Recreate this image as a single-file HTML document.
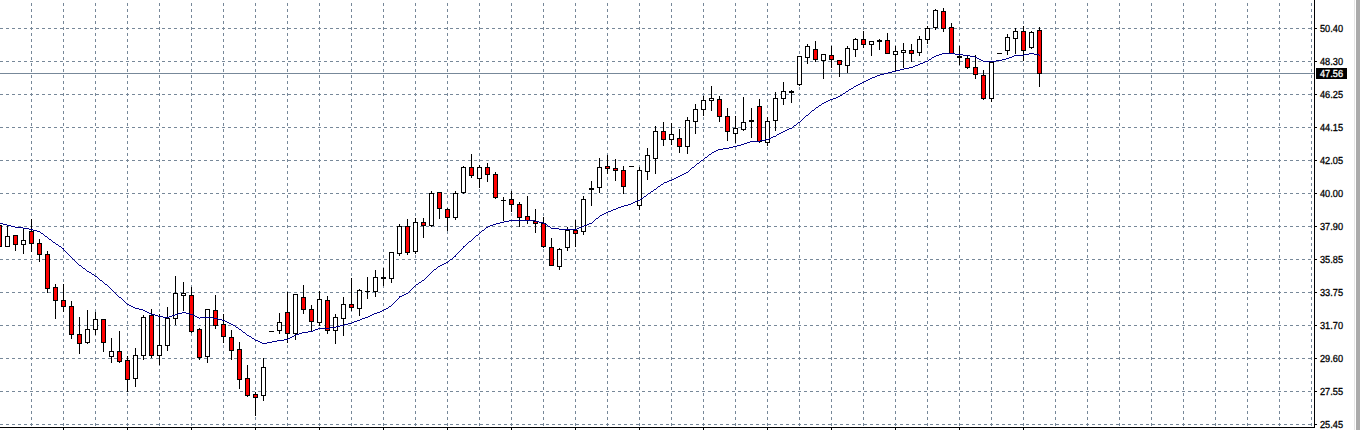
<!DOCTYPE html>
<html><head><meta charset="utf-8"><title>Chart</title>
<style>
html,body{margin:0;padding:0;background:#fff;overflow:hidden}
svg{display:block}
text{font-family:"Liberation Sans",sans-serif;font-size:10.2px;text-rendering:geometricPrecision}
</style></head><body>
<svg width="1360" height="430" viewBox="0 0 1360 430" shape-rendering="crispEdges">
<rect x="0" y="0" width="1360" height="430" fill="#fff"/>
<g stroke="#778899" stroke-width="1" stroke-dasharray="3 3" fill="none">
<line x1="0" y1="28.5" x2="1314" y2="28.5"/>
<line x1="0" y1="61.5" x2="1314" y2="61.5"/>
<line x1="0" y1="94.5" x2="1314" y2="94.5"/>
<line x1="0" y1="127.5" x2="1314" y2="127.5"/>
<line x1="0" y1="160.5" x2="1314" y2="160.5"/>
<line x1="0" y1="193.5" x2="1314" y2="193.5"/>
<line x1="0" y1="226.5" x2="1314" y2="226.5"/>
<line x1="0" y1="259.5" x2="1314" y2="259.5"/>
<line x1="0" y1="292.5" x2="1314" y2="292.5"/>
<line x1="0" y1="325.5" x2="1314" y2="325.5"/>
<line x1="0" y1="358.5" x2="1314" y2="358.5"/>
<line x1="0" y1="391.5" x2="1314" y2="391.5"/>
<line x1="0" y1="424.5" x2="1314" y2="424.5"/>
<line x1="31.5" y1="-3" x2="31.5" y2="427"/>
<line x1="63.5" y1="-3" x2="63.5" y2="427"/>
<line x1="95.5" y1="-3" x2="95.5" y2="427"/>
<line x1="127.5" y1="-3" x2="127.5" y2="427"/>
<line x1="159.5" y1="-3" x2="159.5" y2="427"/>
<line x1="191.5" y1="-3" x2="191.5" y2="427"/>
<line x1="223.5" y1="-3" x2="223.5" y2="427"/>
<line x1="255.5" y1="-3" x2="255.5" y2="427"/>
<line x1="287.5" y1="-3" x2="287.5" y2="427"/>
<line x1="319.5" y1="-3" x2="319.5" y2="427"/>
<line x1="351.5" y1="-3" x2="351.5" y2="427"/>
<line x1="383.5" y1="-3" x2="383.5" y2="427"/>
<line x1="415.5" y1="-3" x2="415.5" y2="427"/>
<line x1="447.5" y1="-3" x2="447.5" y2="427"/>
<line x1="479.5" y1="-3" x2="479.5" y2="427"/>
<line x1="511.5" y1="-3" x2="511.5" y2="427"/>
<line x1="543.5" y1="-3" x2="543.5" y2="427"/>
<line x1="575.5" y1="-3" x2="575.5" y2="427"/>
<line x1="607.5" y1="-3" x2="607.5" y2="427"/>
<line x1="639.5" y1="-3" x2="639.5" y2="427"/>
<line x1="671.5" y1="-3" x2="671.5" y2="427"/>
<line x1="703.5" y1="-3" x2="703.5" y2="427"/>
<line x1="735.5" y1="-3" x2="735.5" y2="427"/>
<line x1="767.5" y1="-3" x2="767.5" y2="427"/>
<line x1="799.5" y1="-3" x2="799.5" y2="427"/>
<line x1="831.5" y1="-3" x2="831.5" y2="427"/>
<line x1="863.5" y1="-3" x2="863.5" y2="427"/>
<line x1="895.5" y1="-3" x2="895.5" y2="427"/>
<line x1="927.5" y1="-3" x2="927.5" y2="427"/>
<line x1="959.5" y1="-3" x2="959.5" y2="427"/>
<line x1="991.5" y1="-3" x2="991.5" y2="427"/>
<line x1="1023.5" y1="-3" x2="1023.5" y2="427"/>
<line x1="1055.5" y1="-3" x2="1055.5" y2="427"/>
<line x1="1087.5" y1="-3" x2="1087.5" y2="427"/>
<line x1="1119.5" y1="-3" x2="1119.5" y2="427"/>
<line x1="1151.5" y1="-3" x2="1151.5" y2="427"/>
<line x1="1183.5" y1="-3" x2="1183.5" y2="427"/>
<line x1="1215.5" y1="-3" x2="1215.5" y2="427"/>
<line x1="1247.5" y1="-3" x2="1247.5" y2="427"/>
<line x1="1279.5" y1="-3" x2="1279.5" y2="427"/>
<line x1="1311.5" y1="-3" x2="1311.5" y2="427"/>
</g>
<rect x="0" y="73" width="1314" height="1" fill="#778899"/>
<g>
<rect x="-1" y="225" width="1" height="22" fill="#000"/><rect x="-3" y="225" width="5" height="22" fill="#000"/><rect x="-2" y="226" width="3" height="20" fill="#ff0000"/>
<rect x="7" y="225" width="1" height="22" fill="#000"/><rect x="5" y="236" width="5" height="11" fill="#000"/><rect x="6" y="237" width="3" height="9" fill="#fff"/>
<rect x="15" y="235" width="1" height="16" fill="#000"/><rect x="13" y="235" width="5" height="10" fill="#000"/><rect x="14" y="236" width="3" height="8" fill="#ff0000"/>
<rect x="23" y="228" width="1" height="26" fill="#000"/><rect x="21" y="240" width="5" height="5" fill="#000"/><rect x="22" y="241" width="3" height="3" fill="#fff"/>
<rect x="31" y="219" width="1" height="33" fill="#000"/><rect x="29" y="231" width="5" height="13" fill="#000"/><rect x="30" y="232" width="3" height="11" fill="#ff0000"/>
<rect x="39" y="239" width="1" height="23" fill="#000"/><rect x="37" y="243" width="5" height="12" fill="#000"/><rect x="38" y="244" width="3" height="10" fill="#ff0000"/>
<rect x="47" y="251" width="1" height="42" fill="#000"/><rect x="45" y="254" width="5" height="35" fill="#000"/><rect x="46" y="255" width="3" height="33" fill="#ff0000"/>
<rect x="55" y="284" width="1" height="35" fill="#000"/><rect x="53" y="287" width="5" height="14" fill="#000"/><rect x="54" y="288" width="3" height="12" fill="#ff0000"/>
<rect x="63" y="284" width="1" height="28" fill="#000"/><rect x="61" y="300" width="5" height="7" fill="#000"/><rect x="62" y="301" width="3" height="5" fill="#ff0000"/>
<rect x="71" y="301" width="1" height="38" fill="#000"/><rect x="69" y="306" width="5" height="29" fill="#000"/><rect x="70" y="307" width="3" height="27" fill="#ff0000"/>
<rect x="79" y="317" width="1" height="37" fill="#000"/><rect x="77" y="334" width="5" height="10" fill="#000"/><rect x="78" y="335" width="3" height="8" fill="#ff0000"/>
<rect x="87" y="310" width="1" height="34" fill="#000"/><rect x="85" y="329" width="5" height="14" fill="#000"/><rect x="86" y="330" width="3" height="12" fill="#fff"/>
<rect x="95" y="312" width="1" height="23" fill="#000"/><rect x="93" y="319" width="5" height="11" fill="#000"/><rect x="94" y="320" width="3" height="9" fill="#fff"/>
<rect x="103" y="319" width="1" height="33" fill="#000"/><rect x="101" y="319" width="5" height="24" fill="#000"/><rect x="102" y="320" width="3" height="22" fill="#ff0000"/>
<rect x="111" y="338" width="1" height="25" fill="#000"/><rect x="109" y="351" width="5" height="6" fill="#000"/><rect x="110" y="352" width="3" height="4" fill="#fff"/>
<rect x="119" y="331" width="1" height="32" fill="#000"/><rect x="117" y="351" width="5" height="11" fill="#000"/><rect x="118" y="352" width="3" height="9" fill="#ff0000"/>
<rect x="127" y="356" width="1" height="36" fill="#000"/><rect x="125" y="360" width="5" height="20" fill="#000"/><rect x="126" y="361" width="3" height="18" fill="#ff0000"/>
<rect x="135" y="348" width="1" height="39" fill="#000"/><rect x="133" y="355" width="5" height="24" fill="#000"/><rect x="134" y="356" width="3" height="22" fill="#fff"/>
<rect x="143" y="315" width="1" height="45" fill="#000"/><rect x="141" y="317" width="5" height="39" fill="#000"/><rect x="142" y="318" width="3" height="37" fill="#fff"/>
<rect x="151" y="309" width="1" height="49" fill="#000"/><rect x="149" y="315" width="5" height="41" fill="#000"/><rect x="150" y="316" width="3" height="39" fill="#ff0000"/>
<rect x="159" y="314" width="1" height="51" fill="#000"/><rect x="157" y="345" width="5" height="11" fill="#000"/><rect x="158" y="346" width="3" height="9" fill="#fff"/>
<rect x="167" y="307" width="1" height="44" fill="#000"/><rect x="165" y="318" width="5" height="28" fill="#000"/><rect x="166" y="319" width="3" height="26" fill="#fff"/>
<rect x="175" y="276" width="1" height="49" fill="#000"/><rect x="173" y="293" width="5" height="26" fill="#000"/><rect x="174" y="294" width="3" height="24" fill="#fff"/>
<rect x="183" y="282" width="1" height="29" fill="#000"/><rect x="181" y="293" width="5" height="3" fill="#000"/><rect x="182" y="294" width="3" height="1" fill="#fff"/>
<rect x="191" y="287" width="1" height="46" fill="#000"/><rect x="189" y="295" width="5" height="37" fill="#000"/><rect x="190" y="296" width="3" height="35" fill="#ff0000"/>
<rect x="199" y="328" width="1" height="32" fill="#000"/><rect x="197" y="329" width="5" height="29" fill="#000"/><rect x="198" y="330" width="3" height="27" fill="#ff0000"/>
<rect x="207" y="309" width="1" height="54" fill="#000"/><rect x="205" y="309" width="5" height="48" fill="#000"/><rect x="206" y="310" width="3" height="46" fill="#fff"/>
<rect x="215" y="295" width="1" height="34" fill="#000"/><rect x="213" y="310" width="5" height="16" fill="#000"/><rect x="214" y="311" width="3" height="14" fill="#ff0000"/>
<rect x="223" y="314" width="1" height="29" fill="#000"/><rect x="221" y="324" width="5" height="13" fill="#000"/><rect x="222" y="325" width="3" height="11" fill="#ff0000"/>
<rect x="231" y="330" width="1" height="30" fill="#000"/><rect x="229" y="337" width="5" height="14" fill="#000"/><rect x="230" y="338" width="3" height="12" fill="#ff0000"/>
<rect x="239" y="342" width="1" height="47" fill="#000"/><rect x="237" y="349" width="5" height="31" fill="#000"/><rect x="238" y="350" width="3" height="29" fill="#ff0000"/>
<rect x="247" y="365" width="1" height="32" fill="#000"/><rect x="245" y="378" width="5" height="18" fill="#000"/><rect x="246" y="379" width="3" height="16" fill="#ff0000"/>
<rect x="255" y="392" width="1" height="24" fill="#000"/><rect x="253" y="394" width="5" height="4" fill="#000"/><rect x="254" y="395" width="3" height="2" fill="#ff0000"/>
<rect x="263" y="358" width="1" height="43" fill="#000"/><rect x="261" y="367" width="5" height="29" fill="#000"/><rect x="262" y="368" width="3" height="27" fill="#fff"/>
<rect x="271" y="331" width="1" height="1" fill="#000"/><rect x="269" y="331" width="5" height="1" fill="#000"/>
<rect x="279" y="313" width="1" height="21" fill="#000"/><rect x="277" y="322" width="5" height="9" fill="#000"/><rect x="278" y="323" width="3" height="7" fill="#fff"/>
<rect x="287" y="292" width="1" height="51" fill="#000"/><rect x="285" y="312" width="5" height="22" fill="#000"/><rect x="286" y="313" width="3" height="20" fill="#ff0000"/>
<rect x="295" y="294" width="1" height="46" fill="#000"/><rect x="293" y="294" width="5" height="40" fill="#000"/><rect x="294" y="295" width="3" height="38" fill="#fff"/>
<rect x="303" y="285" width="1" height="29" fill="#000"/><rect x="301" y="297" width="5" height="13" fill="#000"/><rect x="302" y="298" width="3" height="11" fill="#ff0000"/>
<rect x="311" y="305" width="1" height="26" fill="#000"/><rect x="309" y="309" width="5" height="13" fill="#000"/><rect x="310" y="310" width="3" height="11" fill="#ff0000"/>
<rect x="319" y="291" width="1" height="35" fill="#000"/><rect x="317" y="299" width="5" height="24" fill="#000"/><rect x="318" y="300" width="3" height="22" fill="#fff"/>
<rect x="327" y="296" width="1" height="38" fill="#000"/><rect x="325" y="300" width="5" height="31" fill="#000"/><rect x="326" y="301" width="3" height="29" fill="#ff0000"/>
<rect x="335" y="314" width="1" height="30" fill="#000"/><rect x="333" y="317" width="5" height="14" fill="#000"/><rect x="334" y="318" width="3" height="12" fill="#fff"/>
<rect x="343" y="297" width="1" height="39" fill="#000"/><rect x="341" y="304" width="5" height="15" fill="#000"/><rect x="342" y="305" width="3" height="13" fill="#fff"/>
<rect x="351" y="278" width="1" height="33" fill="#000"/><rect x="349" y="304" width="5" height="4" fill="#000"/><rect x="350" y="305" width="3" height="2" fill="#ff0000"/>
<rect x="359" y="289" width="1" height="27" fill="#000"/><rect x="357" y="290" width="5" height="19" fill="#000"/><rect x="358" y="291" width="3" height="17" fill="#fff"/>
<rect x="367" y="277" width="1" height="22" fill="#000"/><rect x="365" y="291" width="5" height="1" fill="#000"/>
<rect x="375" y="270" width="1" height="27" fill="#000"/><rect x="373" y="277" width="5" height="15" fill="#000"/><rect x="374" y="278" width="3" height="13" fill="#fff"/>
<rect x="383" y="268" width="1" height="18" fill="#000"/><rect x="381" y="277" width="5" height="2" fill="#000"/>
<rect x="391" y="252" width="1" height="31" fill="#000"/><rect x="389" y="252" width="5" height="27" fill="#000"/><rect x="390" y="253" width="3" height="25" fill="#fff"/>
<rect x="399" y="224" width="1" height="32" fill="#000"/><rect x="397" y="226" width="5" height="28" fill="#000"/><rect x="398" y="227" width="3" height="26" fill="#fff"/>
<rect x="407" y="219" width="1" height="36" fill="#000"/><rect x="405" y="226" width="5" height="27" fill="#000"/><rect x="406" y="227" width="3" height="25" fill="#ff0000"/>
<rect x="415" y="218" width="1" height="36" fill="#000"/><rect x="413" y="222" width="5" height="30" fill="#000"/><rect x="414" y="223" width="3" height="28" fill="#fff"/>
<rect x="423" y="218" width="1" height="20" fill="#000"/><rect x="421" y="222" width="5" height="4" fill="#000"/><rect x="422" y="223" width="3" height="2" fill="#ff0000"/>
<rect x="431" y="191" width="1" height="36" fill="#000"/><rect x="429" y="193" width="5" height="33" fill="#000"/><rect x="430" y="194" width="3" height="31" fill="#fff"/>
<rect x="439" y="192" width="1" height="27" fill="#000"/><rect x="437" y="192" width="5" height="17" fill="#000"/><rect x="438" y="193" width="3" height="15" fill="#ff0000"/>
<rect x="447" y="208" width="1" height="23" fill="#000"/><rect x="445" y="209" width="5" height="9" fill="#000"/><rect x="446" y="210" width="3" height="7" fill="#ff0000"/>
<rect x="455" y="191" width="1" height="29" fill="#000"/><rect x="453" y="193" width="5" height="25" fill="#000"/><rect x="454" y="194" width="3" height="23" fill="#fff"/>
<rect x="463" y="166" width="1" height="28" fill="#000"/><rect x="461" y="167" width="5" height="26" fill="#000"/><rect x="462" y="168" width="3" height="24" fill="#fff"/>
<rect x="471" y="154" width="1" height="24" fill="#000"/><rect x="469" y="167" width="5" height="9" fill="#000"/><rect x="470" y="168" width="3" height="7" fill="#ff0000"/>
<rect x="479" y="165" width="1" height="23" fill="#000"/><rect x="477" y="167" width="5" height="12" fill="#000"/><rect x="478" y="168" width="3" height="10" fill="#fff"/>
<rect x="487" y="163" width="1" height="19" fill="#000"/><rect x="485" y="167" width="5" height="8" fill="#000"/><rect x="486" y="168" width="3" height="6" fill="#ff0000"/>
<rect x="495" y="172" width="1" height="27" fill="#000"/><rect x="493" y="174" width="5" height="24" fill="#000"/><rect x="494" y="175" width="3" height="22" fill="#ff0000"/>
<rect x="503" y="197" width="1" height="24" fill="#000"/><rect x="501" y="200" width="5" height="1" fill="#000"/>
<rect x="511" y="191" width="1" height="21" fill="#000"/><rect x="509" y="199" width="5" height="6" fill="#000"/><rect x="510" y="200" width="3" height="4" fill="#ff0000"/>
<rect x="519" y="202" width="1" height="25" fill="#000"/><rect x="517" y="204" width="5" height="14" fill="#000"/><rect x="518" y="205" width="3" height="12" fill="#ff0000"/>
<rect x="527" y="196" width="1" height="28" fill="#000"/><rect x="525" y="216" width="5" height="5" fill="#000"/><rect x="526" y="217" width="3" height="3" fill="#ff0000"/>
<rect x="535" y="209" width="1" height="24" fill="#000"/><rect x="533" y="221" width="5" height="3" fill="#000"/><rect x="534" y="222" width="3" height="1" fill="#ff0000"/>
<rect x="543" y="217" width="1" height="31" fill="#000"/><rect x="541" y="223" width="5" height="24" fill="#000"/><rect x="542" y="224" width="3" height="22" fill="#ff0000"/>
<rect x="551" y="238" width="1" height="28" fill="#000"/><rect x="549" y="247" width="5" height="19" fill="#000"/><rect x="550" y="248" width="3" height="17" fill="#ff0000"/>
<rect x="559" y="248" width="1" height="22" fill="#000"/><rect x="557" y="249" width="5" height="18" fill="#000"/><rect x="558" y="250" width="3" height="16" fill="#fff"/>
<rect x="567" y="227" width="1" height="24" fill="#000"/><rect x="565" y="230" width="5" height="18" fill="#000"/><rect x="566" y="231" width="3" height="16" fill="#fff"/>
<rect x="575" y="220" width="1" height="27" fill="#000"/><rect x="573" y="230" width="5" height="4" fill="#000"/><rect x="574" y="231" width="3" height="2" fill="#ff0000"/>
<rect x="583" y="196" width="1" height="39" fill="#000"/><rect x="581" y="199" width="5" height="33" fill="#000"/><rect x="582" y="200" width="3" height="31" fill="#fff"/>
<rect x="591" y="181" width="1" height="25" fill="#000"/><rect x="589" y="188" width="5" height="2" fill="#000"/>
<rect x="599" y="158" width="1" height="35" fill="#000"/><rect x="597" y="167" width="5" height="21" fill="#000"/><rect x="598" y="168" width="3" height="19" fill="#fff"/>
<rect x="607" y="155" width="1" height="19" fill="#000"/><rect x="605" y="166" width="5" height="3" fill="#000"/><rect x="606" y="167" width="3" height="1" fill="#ff0000"/>
<rect x="615" y="159" width="1" height="22" fill="#000"/><rect x="613" y="168" width="5" height="3" fill="#000"/><rect x="614" y="169" width="3" height="1" fill="#ff0000"/>
<rect x="623" y="166" width="1" height="28" fill="#000"/><rect x="621" y="170" width="5" height="17" fill="#000"/><rect x="622" y="171" width="3" height="15" fill="#ff0000"/>
<rect x="631" y="166" width="1" height="1" fill="#000"/><rect x="629" y="166" width="5" height="1" fill="#000"/>
<rect x="639" y="167" width="1" height="43" fill="#000"/><rect x="637" y="170" width="5" height="36" fill="#000"/><rect x="638" y="171" width="3" height="34" fill="#fff"/>
<rect x="647" y="148" width="1" height="32" fill="#000"/><rect x="645" y="155" width="5" height="17" fill="#000"/><rect x="646" y="156" width="3" height="15" fill="#fff"/>
<rect x="655" y="126" width="1" height="48" fill="#000"/><rect x="653" y="131" width="5" height="28" fill="#000"/><rect x="654" y="132" width="3" height="26" fill="#fff"/>
<rect x="663" y="122" width="1" height="24" fill="#000"/><rect x="661" y="131" width="5" height="9" fill="#000"/><rect x="662" y="132" width="3" height="7" fill="#ff0000"/>
<rect x="671" y="123" width="1" height="22" fill="#000"/><rect x="669" y="134" width="5" height="6" fill="#000"/><rect x="670" y="135" width="3" height="4" fill="#fff"/>
<rect x="679" y="129" width="1" height="24" fill="#000"/><rect x="677" y="138" width="5" height="9" fill="#000"/><rect x="678" y="139" width="3" height="7" fill="#ff0000"/>
<rect x="687" y="117" width="1" height="37" fill="#000"/><rect x="685" y="120" width="5" height="27" fill="#000"/><rect x="686" y="121" width="3" height="25" fill="#fff"/>
<rect x="695" y="104" width="1" height="30" fill="#000"/><rect x="693" y="109" width="5" height="13" fill="#000"/><rect x="694" y="110" width="3" height="11" fill="#fff"/>
<rect x="703" y="96" width="1" height="20" fill="#000"/><rect x="701" y="100" width="5" height="10" fill="#000"/><rect x="702" y="101" width="3" height="8" fill="#fff"/>
<rect x="711" y="86" width="1" height="25" fill="#000"/><rect x="709" y="98" width="5" height="3" fill="#000"/><rect x="710" y="99" width="3" height="1" fill="#fff"/>
<rect x="719" y="96" width="1" height="26" fill="#000"/><rect x="717" y="99" width="5" height="18" fill="#000"/><rect x="718" y="100" width="3" height="16" fill="#ff0000"/>
<rect x="727" y="108" width="1" height="33" fill="#000"/><rect x="725" y="116" width="5" height="16" fill="#000"/><rect x="726" y="117" width="3" height="14" fill="#ff0000"/>
<rect x="735" y="116" width="1" height="27" fill="#000"/><rect x="733" y="128" width="5" height="6" fill="#000"/><rect x="734" y="129" width="3" height="4" fill="#fff"/>
<rect x="743" y="97" width="1" height="34" fill="#000"/><rect x="741" y="122" width="5" height="8" fill="#000"/><rect x="742" y="123" width="3" height="6" fill="#fff"/>
<rect x="751" y="108" width="1" height="30" fill="#000"/><rect x="749" y="120" width="5" height="2" fill="#000"/>
<rect x="759" y="99" width="1" height="44" fill="#000"/><rect x="757" y="106" width="5" height="36" fill="#000"/><rect x="758" y="107" width="3" height="34" fill="#ff0000"/>
<rect x="767" y="117" width="1" height="29" fill="#000"/><rect x="765" y="121" width="5" height="22" fill="#000"/><rect x="766" y="122" width="3" height="20" fill="#fff"/>
<rect x="775" y="92" width="1" height="39" fill="#000"/><rect x="773" y="98" width="5" height="23" fill="#000"/><rect x="774" y="99" width="3" height="21" fill="#fff"/>
<rect x="783" y="82" width="1" height="23" fill="#000"/><rect x="781" y="91" width="5" height="8" fill="#000"/><rect x="782" y="92" width="3" height="6" fill="#fff"/>
<rect x="791" y="90" width="1" height="13" fill="#000"/><rect x="789" y="91" width="5" height="2" fill="#000"/>
<rect x="799" y="56" width="1" height="30" fill="#000"/><rect x="797" y="56" width="5" height="29" fill="#000"/><rect x="798" y="57" width="3" height="27" fill="#fff"/>
<rect x="807" y="44" width="1" height="20" fill="#000"/><rect x="805" y="46" width="5" height="12" fill="#000"/><rect x="806" y="47" width="3" height="10" fill="#fff"/>
<rect x="815" y="41" width="1" height="21" fill="#000"/><rect x="813" y="49" width="5" height="11" fill="#000"/><rect x="814" y="50" width="3" height="9" fill="#ff0000"/>
<rect x="823" y="54" width="1" height="25" fill="#000"/><rect x="821" y="54" width="5" height="7" fill="#000"/><rect x="822" y="55" width="3" height="5" fill="#fff"/>
<rect x="831" y="46" width="1" height="22" fill="#000"/><rect x="829" y="55" width="5" height="5" fill="#000"/><rect x="830" y="56" width="3" height="3" fill="#ff0000"/>
<rect x="839" y="60" width="1" height="17" fill="#000"/><rect x="837" y="60" width="5" height="5" fill="#000"/><rect x="838" y="61" width="3" height="3" fill="#ff0000"/>
<rect x="847" y="46" width="1" height="27" fill="#000"/><rect x="845" y="48" width="5" height="18" fill="#000"/><rect x="846" y="49" width="3" height="16" fill="#fff"/>
<rect x="855" y="38" width="1" height="19" fill="#000"/><rect x="853" y="39" width="5" height="11" fill="#000"/><rect x="854" y="40" width="3" height="9" fill="#fff"/>
<rect x="863" y="31" width="1" height="17" fill="#000"/><rect x="861" y="39" width="5" height="6" fill="#000"/><rect x="862" y="40" width="3" height="4" fill="#ff0000"/>
<rect x="871" y="41" width="1" height="15" fill="#000"/><rect x="869" y="41" width="5" height="4" fill="#000"/><rect x="870" y="42" width="3" height="2" fill="#fff"/>
<rect x="879" y="39" width="1" height="11" fill="#000"/><rect x="877" y="40" width="5" height="2" fill="#000"/>
<rect x="887" y="33" width="1" height="21" fill="#000"/><rect x="885" y="40" width="5" height="14" fill="#000"/><rect x="886" y="41" width="3" height="12" fill="#ff0000"/>
<rect x="895" y="46" width="1" height="26" fill="#000"/><rect x="893" y="51" width="5" height="4" fill="#000"/><rect x="894" y="52" width="3" height="2" fill="#fff"/>
<rect x="903" y="43" width="1" height="25" fill="#000"/><rect x="901" y="50" width="5" height="3" fill="#000"/><rect x="902" y="51" width="3" height="1" fill="#fff"/>
<rect x="911" y="44" width="1" height="18" fill="#000"/><rect x="909" y="50" width="5" height="4" fill="#000"/><rect x="910" y="51" width="3" height="2" fill="#ff0000"/>
<rect x="919" y="36" width="1" height="20" fill="#000"/><rect x="917" y="39" width="5" height="14" fill="#000"/><rect x="918" y="40" width="3" height="12" fill="#fff"/>
<rect x="927" y="26" width="1" height="18" fill="#000"/><rect x="925" y="28" width="5" height="12" fill="#000"/><rect x="926" y="29" width="3" height="10" fill="#fff"/>
<rect x="935" y="9" width="1" height="21" fill="#000"/><rect x="933" y="10" width="5" height="18" fill="#000"/><rect x="934" y="11" width="3" height="16" fill="#fff"/>
<rect x="943" y="8" width="1" height="24" fill="#000"/><rect x="941" y="11" width="5" height="18" fill="#000"/><rect x="942" y="12" width="3" height="16" fill="#ff0000"/>
<rect x="951" y="23" width="1" height="31" fill="#000"/><rect x="949" y="27" width="5" height="27" fill="#000"/><rect x="950" y="28" width="3" height="25" fill="#ff0000"/>
<rect x="959" y="46" width="1" height="19" fill="#000"/><rect x="957" y="56" width="5" height="2" fill="#000"/>
<rect x="967" y="56" width="1" height="13" fill="#000"/><rect x="965" y="58" width="5" height="10" fill="#000"/><rect x="966" y="59" width="3" height="8" fill="#ff0000"/>
<rect x="975" y="55" width="1" height="24" fill="#000"/><rect x="973" y="67" width="5" height="8" fill="#000"/><rect x="974" y="68" width="3" height="6" fill="#ff0000"/>
<rect x="983" y="70" width="1" height="30" fill="#000"/><rect x="981" y="75" width="5" height="24" fill="#000"/><rect x="982" y="76" width="3" height="22" fill="#ff0000"/>
<rect x="991" y="62" width="1" height="40" fill="#000"/><rect x="989" y="62" width="5" height="37" fill="#000"/><rect x="990" y="63" width="3" height="35" fill="#fff"/>
<rect x="999" y="53" width="1" height="1" fill="#000"/><rect x="997" y="53" width="5" height="1" fill="#000"/>
<rect x="1007" y="34" width="1" height="21" fill="#000"/><rect x="1005" y="37" width="5" height="14" fill="#000"/><rect x="1006" y="38" width="3" height="12" fill="#fff"/>
<rect x="1015" y="28" width="1" height="26" fill="#000"/><rect x="1013" y="31" width="5" height="8" fill="#000"/><rect x="1014" y="32" width="3" height="6" fill="#fff"/>
<rect x="1023" y="26" width="1" height="35" fill="#000"/><rect x="1021" y="31" width="5" height="20" fill="#000"/><rect x="1022" y="32" width="3" height="18" fill="#ff0000"/>
<rect x="1031" y="31" width="1" height="18" fill="#000"/><rect x="1029" y="32" width="5" height="16" fill="#000"/><rect x="1030" y="33" width="3" height="14" fill="#fff"/>
<rect x="1039" y="27" width="1" height="60" fill="#000"/><rect x="1037" y="30" width="5" height="44" fill="#000"/><rect x="1038" y="31" width="3" height="42" fill="#ff0000"/>
</g>
<g fill="#00008b">
<rect x="942" y="53" width="13" height="1"/><rect x="1029" y="53" width="5" height="1"/><rect x="939" y="54" width="3" height="1"/><rect x="955" y="54" width="8" height="1"/><rect x="1024" y="54" width="5" height="1"/><rect x="1034" y="54" width="5" height="1"/><rect x="936" y="55" width="3" height="1"/><rect x="963" y="55" width="7" height="1"/><rect x="1014" y="55" width="10" height="1"/><rect x="1039" y="55" width="1" height="1"/><rect x="934" y="56" width="2" height="1"/><rect x="970" y="56" width="5" height="1"/><rect x="1012" y="56" width="2" height="1"/><rect x="932" y="57" width="2" height="1"/><rect x="975" y="57" width="2" height="1"/><rect x="1009" y="57" width="3" height="1"/><rect x="931" y="58" width="1" height="1"/><rect x="977" y="58" width="2" height="1"/><rect x="1006" y="58" width="3" height="1"/><rect x="929" y="59" width="2" height="1"/><rect x="979" y="59" width="2" height="1"/><rect x="1002" y="59" width="4" height="1"/><rect x="928" y="60" width="1" height="1"/><rect x="981" y="60" width="2" height="1"/><rect x="996" y="60" width="6" height="1"/><rect x="925" y="61" width="3" height="1"/><rect x="983" y="61" width="13" height="1"/><rect x="923" y="62" width="2" height="1"/><rect x="920" y="63" width="3" height="1"/><rect x="918" y="64" width="2" height="1"/><rect x="915" y="65" width="3" height="1"/><rect x="913" y="66" width="2" height="1"/><rect x="909" y="67" width="4" height="1"/><rect x="904" y="68" width="5" height="1"/><rect x="900" y="69" width="4" height="1"/><rect x="896" y="70" width="4" height="1"/><rect x="892" y="71" width="4" height="1"/><rect x="888" y="72" width="4" height="1"/><rect x="884" y="73" width="4" height="1"/><rect x="880" y="74" width="4" height="1"/><rect x="877" y="75" width="3" height="1"/><rect x="875" y="76" width="2" height="1"/><rect x="872" y="77" width="3" height="1"/><rect x="870" y="78" width="2" height="1"/><rect x="868" y="79" width="2" height="1"/><rect x="866" y="80" width="2" height="1"/><rect x="864" y="81" width="2" height="1"/><rect x="862" y="82" width="2" height="1"/><rect x="860" y="83" width="2" height="1"/><rect x="858" y="84" width="2" height="1"/><rect x="856" y="85" width="2" height="1"/><rect x="854" y="86" width="2" height="1"/><rect x="853" y="87" width="1" height="1"/><rect x="851" y="88" width="2" height="1"/><rect x="849" y="89" width="2" height="1"/><rect x="848" y="90" width="1" height="1"/><rect x="846" y="91" width="2" height="1"/><rect x="845" y="92" width="1" height="1"/><rect x="843" y="93" width="2" height="1"/><rect x="842" y="94" width="1" height="1"/><rect x="840" y="95" width="2" height="1"/><rect x="838" y="96" width="2" height="1"/><rect x="836" y="97" width="2" height="1"/><rect x="833" y="98" width="3" height="1"/><rect x="830" y="99" width="3" height="1"/><rect x="828" y="100" width="2" height="1"/><rect x="826" y="101" width="2" height="1"/><rect x="824" y="102" width="2" height="1"/><rect x="822" y="103" width="2" height="1"/><rect x="821" y="104" width="1" height="1"/><rect x="819" y="105" width="2" height="1"/><rect x="818" y="106" width="1" height="1"/><rect x="816" y="107" width="2" height="1"/><rect x="815" y="108" width="1" height="1"/><rect x="814" y="109" width="1" height="1"/><rect x="812" y="110" width="2" height="1"/><rect x="811" y="111" width="1" height="1"/><rect x="810" y="112" width="1" height="1"/><rect x="809" y="113" width="1" height="1"/><rect x="808" y="114" width="1" height="1"/><rect x="806" y="115" width="2" height="1"/><rect x="805" y="116" width="1" height="1"/><rect x="804" y="117" width="1" height="1"/><rect x="803" y="118" width="1" height="1"/><rect x="802" y="119" width="1" height="1"/><rect x="801" y="120" width="1" height="1"/><rect x="800" y="121" width="1" height="1"/><rect x="798" y="122" width="2" height="1"/><rect x="797" y="123" width="1" height="1"/><rect x="796" y="124" width="1" height="1"/><rect x="794" y="125" width="2" height="1"/><rect x="793" y="126" width="1" height="1"/><rect x="792" y="127" width="1" height="1"/><rect x="789" y="128" width="3" height="1"/><rect x="787" y="129" width="2" height="1"/><rect x="785" y="130" width="2" height="1"/><rect x="783" y="131" width="2" height="1"/><rect x="781" y="132" width="2" height="1"/><rect x="779" y="133" width="2" height="1"/><rect x="777" y="134" width="2" height="1"/><rect x="776" y="135" width="1" height="1"/><rect x="773" y="136" width="3" height="1"/><rect x="771" y="137" width="2" height="1"/><rect x="769" y="138" width="2" height="1"/><rect x="765" y="139" width="4" height="1"/><rect x="760" y="140" width="5" height="1"/><rect x="750" y="141" width="10" height="1"/><rect x="747" y="142" width="3" height="1"/><rect x="744" y="143" width="3" height="1"/><rect x="741" y="144" width="3" height="1"/><rect x="737" y="145" width="4" height="1"/><rect x="733" y="146" width="4" height="1"/><rect x="729" y="147" width="4" height="1"/><rect x="723" y="148" width="6" height="1"/><rect x="718" y="149" width="5" height="1"/><rect x="716" y="150" width="2" height="1"/><rect x="714" y="151" width="2" height="1"/><rect x="712" y="152" width="2" height="1"/><rect x="711" y="153" width="1" height="1"/><rect x="709" y="154" width="2" height="1"/><rect x="708" y="155" width="1" height="1"/><rect x="707" y="156" width="1" height="1"/><rect x="705" y="157" width="2" height="1"/><rect x="704" y="158" width="1" height="1"/><rect x="703" y="159" width="1" height="1"/><rect x="701" y="160" width="2" height="1"/><rect x="700" y="161" width="1" height="1"/><rect x="699" y="162" width="1" height="1"/><rect x="697" y="163" width="2" height="1"/><rect x="696" y="164" width="1" height="1"/><rect x="695" y="165" width="1" height="1"/><rect x="694" y="166" width="1" height="1"/><rect x="692" y="167" width="2" height="1"/><rect x="691" y="168" width="1" height="1"/><rect x="690" y="169" width="1" height="1"/><rect x="689" y="170" width="1" height="1"/><rect x="688" y="171" width="1" height="1"/><rect x="686" y="172" width="2" height="1"/><rect x="684" y="173" width="2" height="1"/><rect x="682" y="174" width="2" height="1"/><rect x="680" y="175" width="2" height="1"/><rect x="678" y="176" width="2" height="1"/><rect x="676" y="177" width="2" height="1"/><rect x="674" y="178" width="2" height="1"/><rect x="672" y="179" width="2" height="1"/><rect x="669" y="180" width="3" height="1"/><rect x="667" y="181" width="2" height="1"/><rect x="664" y="182" width="3" height="1"/><rect x="663" y="183" width="1" height="1"/><rect x="661" y="184" width="2" height="1"/><rect x="660" y="185" width="1" height="1"/><rect x="658" y="186" width="2" height="1"/><rect x="657" y="187" width="1" height="1"/><rect x="656" y="188" width="1" height="1"/><rect x="654" y="189" width="2" height="1"/><rect x="653" y="190" width="1" height="1"/><rect x="651" y="191" width="2" height="1"/><rect x="650" y="192" width="1" height="1"/><rect x="648" y="193" width="2" height="1"/><rect x="647" y="194" width="1" height="1"/><rect x="646" y="195" width="1" height="1"/><rect x="644" y="196" width="2" height="1"/><rect x="643" y="197" width="1" height="1"/><rect x="641" y="198" width="2" height="1"/><rect x="640" y="199" width="1" height="1"/><rect x="637" y="200" width="3" height="1"/><rect x="635" y="201" width="2" height="1"/><rect x="633" y="202" width="2" height="1"/><rect x="631" y="203" width="2" height="1"/><rect x="628" y="204" width="3" height="1"/><rect x="624" y="205" width="4" height="1"/><rect x="621" y="206" width="3" height="1"/><rect x="618" y="207" width="3" height="1"/><rect x="616" y="208" width="2" height="1"/><rect x="613" y="209" width="3" height="1"/><rect x="611" y="210" width="2" height="1"/><rect x="608" y="211" width="3" height="1"/><rect x="606" y="212" width="2" height="1"/><rect x="604" y="213" width="2" height="1"/><rect x="602" y="214" width="2" height="1"/><rect x="600" y="215" width="2" height="1"/><rect x="599" y="216" width="1" height="1"/><rect x="598" y="217" width="1" height="1"/><rect x="596" y="218" width="2" height="1"/><rect x="595" y="219" width="1" height="1"/><rect x="509" y="220" width="26" height="1"/><rect x="594" y="220" width="1" height="1"/><rect x="504" y="221" width="5" height="1"/><rect x="535" y="221" width="4" height="1"/><rect x="593" y="221" width="1" height="1"/><rect x="500" y="222" width="4" height="1"/><rect x="539" y="222" width="4" height="1"/><rect x="592" y="222" width="1" height="1"/><rect x="0" y="223" width="3" height="1"/><rect x="496" y="223" width="4" height="1"/><rect x="543" y="223" width="2" height="1"/><rect x="589" y="223" width="3" height="1"/><rect x="3" y="224" width="4" height="1"/><rect x="493" y="224" width="3" height="1"/><rect x="545" y="224" width="2" height="1"/><rect x="587" y="224" width="2" height="1"/><rect x="7" y="225" width="4" height="1"/><rect x="490" y="225" width="3" height="1"/><rect x="547" y="225" width="1" height="1"/><rect x="584" y="225" width="3" height="1"/><rect x="11" y="226" width="4" height="1"/><rect x="488" y="226" width="2" height="1"/><rect x="548" y="226" width="2" height="1"/><rect x="582" y="226" width="2" height="1"/><rect x="15" y="227" width="8" height="1"/><rect x="486" y="227" width="2" height="1"/><rect x="550" y="227" width="1" height="1"/><rect x="579" y="227" width="3" height="1"/><rect x="23" y="228" width="6" height="1"/><rect x="485" y="228" width="1" height="1"/><rect x="551" y="228" width="8" height="1"/><rect x="577" y="228" width="2" height="1"/><rect x="29" y="229" width="4" height="1"/><rect x="484" y="229" width="1" height="1"/><rect x="559" y="229" width="18" height="1"/><rect x="33" y="230" width="4" height="1"/><rect x="482" y="230" width="2" height="1"/><rect x="37" y="231" width="3" height="1"/><rect x="481" y="231" width="1" height="1"/><rect x="40" y="232" width="1" height="1"/><rect x="480" y="232" width="1" height="1"/><rect x="41" y="233" width="2" height="1"/><rect x="479" y="233" width="1" height="1"/><rect x="43" y="234" width="1" height="1"/><rect x="478" y="234" width="1" height="1"/><rect x="44" y="235" width="1" height="1"/><rect x="476" y="235" width="2" height="1"/><rect x="45" y="236" width="2" height="1"/><rect x="475" y="236" width="1" height="1"/><rect x="47" y="237" width="1" height="1"/><rect x="474" y="237" width="1" height="1"/><rect x="48" y="238" width="1" height="1"/><rect x="473" y="238" width="1" height="1"/><rect x="49" y="239" width="2" height="1"/><rect x="472" y="239" width="1" height="1"/><rect x="51" y="240" width="1" height="1"/><rect x="471" y="240" width="1" height="1"/><rect x="52" y="241" width="1" height="1"/><rect x="469" y="241" width="2" height="1"/><rect x="53" y="242" width="2" height="1"/><rect x="468" y="242" width="1" height="1"/><rect x="55" y="243" width="1" height="1"/><rect x="467" y="243" width="1" height="1"/><rect x="56" y="244" width="2" height="1"/><rect x="466" y="244" width="1" height="1"/><rect x="58" y="245" width="1" height="1"/><rect x="465" y="245" width="1" height="1"/><rect x="59" y="246" width="2" height="1"/><rect x="463" y="246" width="2" height="1"/><rect x="61" y="247" width="1" height="1"/><rect x="463" y="247" width="1" height="1"/><rect x="62" y="248" width="2" height="1"/><rect x="462" y="248" width="1" height="1"/><rect x="63" y="249" width="1" height="1"/><rect x="461" y="249" width="1" height="1"/><rect x="64" y="250" width="1" height="1"/><rect x="460" y="250" width="1" height="1"/><rect x="65" y="251" width="1" height="1"/><rect x="459" y="251" width="1" height="1"/><rect x="66" y="252" width="1" height="1"/><rect x="458" y="252" width="1" height="1"/><rect x="67" y="253" width="1" height="1"/><rect x="457" y="253" width="1" height="1"/><rect x="68" y="254" width="1" height="1"/><rect x="456" y="254" width="1" height="1"/><rect x="69" y="255" width="1" height="1"/><rect x="455" y="255" width="1" height="1"/><rect x="70" y="256" width="1" height="1"/><rect x="454" y="256" width="2" height="1"/><rect x="71" y="257" width="1" height="1"/><rect x="453" y="257" width="1" height="1"/><rect x="72" y="258" width="1" height="1"/><rect x="452" y="258" width="1" height="1"/><rect x="73" y="259" width="1" height="1"/><rect x="450" y="259" width="2" height="1"/><rect x="74" y="260" width="1" height="1"/><rect x="449" y="260" width="1" height="1"/><rect x="75" y="261" width="1" height="1"/><rect x="448" y="261" width="1" height="1"/><rect x="76" y="262" width="1" height="1"/><rect x="446" y="262" width="2" height="1"/><rect x="77" y="263" width="1" height="1"/><rect x="444" y="263" width="2" height="1"/><rect x="78" y="264" width="1" height="1"/><rect x="442" y="264" width="2" height="1"/><rect x="79" y="265" width="2" height="1"/><rect x="440" y="265" width="2" height="1"/><rect x="81" y="266" width="1" height="1"/><rect x="438" y="266" width="2" height="1"/><rect x="82" y="267" width="1" height="1"/><rect x="437" y="267" width="1" height="1"/><rect x="83" y="268" width="2" height="1"/><rect x="436" y="268" width="1" height="1"/><rect x="85" y="269" width="1" height="1"/><rect x="434" y="269" width="2" height="1"/><rect x="86" y="270" width="1" height="1"/><rect x="433" y="270" width="1" height="1"/><rect x="87" y="271" width="2" height="1"/><rect x="432" y="271" width="1" height="1"/><rect x="89" y="272" width="2" height="1"/><rect x="431" y="272" width="1" height="1"/><rect x="91" y="273" width="1" height="1"/><rect x="430" y="273" width="1" height="1"/><rect x="92" y="274" width="2" height="1"/><rect x="429" y="274" width="1" height="1"/><rect x="94" y="275" width="1" height="1"/><rect x="428" y="275" width="1" height="1"/><rect x="95" y="276" width="2" height="1"/><rect x="427" y="276" width="1" height="1"/><rect x="97" y="277" width="1" height="1"/><rect x="426" y="277" width="1" height="1"/><rect x="98" y="278" width="1" height="1"/><rect x="425" y="278" width="1" height="1"/><rect x="99" y="279" width="1" height="1"/><rect x="424" y="279" width="1" height="1"/><rect x="100" y="280" width="2" height="1"/><rect x="422" y="280" width="2" height="1"/><rect x="102" y="281" width="1" height="1"/><rect x="421" y="281" width="1" height="1"/><rect x="103" y="282" width="1" height="1"/><rect x="419" y="282" width="2" height="1"/><rect x="104" y="283" width="1" height="1"/><rect x="418" y="283" width="1" height="1"/><rect x="105" y="284" width="2" height="1"/><rect x="416" y="284" width="2" height="1"/><rect x="107" y="285" width="1" height="1"/><rect x="415" y="285" width="1" height="1"/><rect x="108" y="286" width="1" height="1"/><rect x="414" y="286" width="1" height="1"/><rect x="109" y="287" width="1" height="1"/><rect x="413" y="287" width="1" height="1"/><rect x="110" y="288" width="1" height="1"/><rect x="412" y="288" width="1" height="1"/><rect x="111" y="289" width="1" height="1"/><rect x="411" y="289" width="1" height="1"/><rect x="112" y="290" width="1" height="1"/><rect x="410" y="290" width="1" height="1"/><rect x="113" y="291" width="1" height="1"/><rect x="409" y="291" width="1" height="1"/><rect x="114" y="292" width="1" height="1"/><rect x="408" y="292" width="1" height="1"/><rect x="115" y="293" width="1" height="1"/><rect x="406" y="293" width="2" height="1"/><rect x="116" y="294" width="1" height="1"/><rect x="404" y="294" width="2" height="1"/><rect x="117" y="295" width="1" height="1"/><rect x="402" y="295" width="2" height="1"/><rect x="118" y="296" width="1" height="1"/><rect x="399" y="296" width="3" height="1"/><rect x="119" y="297" width="2" height="1"/><rect x="399" y="297" width="1" height="1"/><rect x="121" y="298" width="1" height="1"/><rect x="398" y="298" width="1" height="1"/><rect x="122" y="299" width="1" height="1"/><rect x="397" y="299" width="1" height="1"/><rect x="123" y="300" width="1" height="1"/><rect x="396" y="300" width="1" height="1"/><rect x="124" y="301" width="1" height="1"/><rect x="395" y="301" width="1" height="1"/><rect x="125" y="302" width="1" height="1"/><rect x="394" y="302" width="1" height="1"/><rect x="126" y="303" width="1" height="1"/><rect x="393" y="303" width="1" height="1"/><rect x="127" y="304" width="2" height="1"/><rect x="392" y="304" width="1" height="1"/><rect x="129" y="305" width="2" height="1"/><rect x="391" y="305" width="1" height="1"/><rect x="131" y="306" width="2" height="1"/><rect x="389" y="306" width="2" height="1"/><rect x="133" y="307" width="2" height="1"/><rect x="388" y="307" width="1" height="1"/><rect x="135" y="308" width="4" height="1"/><rect x="386" y="308" width="2" height="1"/><rect x="139" y="309" width="4" height="1"/><rect x="384" y="309" width="2" height="1"/><rect x="143" y="310" width="2" height="1"/><rect x="382" y="310" width="2" height="1"/><rect x="145" y="311" width="2" height="1"/><rect x="380" y="311" width="2" height="1"/><rect x="147" y="312" width="2" height="1"/><rect x="182" y="312" width="4" height="1"/><rect x="377" y="312" width="3" height="1"/><rect x="149" y="313" width="2" height="1"/><rect x="178" y="313" width="4" height="1"/><rect x="186" y="313" width="4" height="1"/><rect x="374" y="313" width="3" height="1"/><rect x="151" y="314" width="4" height="1"/><rect x="175" y="314" width="3" height="1"/><rect x="190" y="314" width="3" height="1"/><rect x="372" y="314" width="2" height="1"/><rect x="155" y="315" width="3" height="1"/><rect x="172" y="315" width="3" height="1"/><rect x="193" y="315" width="2" height="1"/><rect x="370" y="315" width="2" height="1"/><rect x="158" y="316" width="5" height="1"/><rect x="169" y="316" width="3" height="1"/><rect x="195" y="316" width="2" height="1"/><rect x="368" y="316" width="2" height="1"/><rect x="163" y="317" width="6" height="1"/><rect x="197" y="317" width="2" height="1"/><rect x="200" y="317" width="13" height="1"/><rect x="365" y="317" width="3" height="1"/><rect x="199" y="318" width="1" height="1"/><rect x="213" y="318" width="5" height="1"/><rect x="362" y="318" width="3" height="1"/><rect x="218" y="319" width="4" height="1"/><rect x="360" y="319" width="2" height="1"/><rect x="222" y="320" width="3" height="1"/><rect x="357" y="320" width="3" height="1"/><rect x="225" y="321" width="2" height="1"/><rect x="354" y="321" width="3" height="1"/><rect x="227" y="322" width="2" height="1"/><rect x="352" y="322" width="2" height="1"/><rect x="229" y="323" width="2" height="1"/><rect x="348" y="323" width="4" height="1"/><rect x="231" y="324" width="2" height="1"/><rect x="344" y="324" width="4" height="1"/><rect x="233" y="325" width="2" height="1"/><rect x="340" y="325" width="4" height="1"/><rect x="235" y="326" width="1" height="1"/><rect x="336" y="326" width="4" height="1"/><rect x="236" y="327" width="2" height="1"/><rect x="330" y="327" width="6" height="1"/><rect x="238" y="328" width="1" height="1"/><rect x="318" y="328" width="12" height="1"/><rect x="239" y="329" width="2" height="1"/><rect x="315" y="329" width="3" height="1"/><rect x="241" y="330" width="1" height="1"/><rect x="313" y="330" width="2" height="1"/><rect x="242" y="331" width="1" height="1"/><rect x="308" y="331" width="5" height="1"/><rect x="243" y="332" width="2" height="1"/><rect x="302" y="332" width="6" height="1"/><rect x="245" y="333" width="1" height="1"/><rect x="299" y="333" width="3" height="1"/><rect x="246" y="334" width="1" height="1"/><rect x="296" y="334" width="3" height="1"/><rect x="247" y="335" width="2" height="1"/><rect x="294" y="335" width="2" height="1"/><rect x="249" y="336" width="2" height="1"/><rect x="292" y="336" width="2" height="1"/><rect x="251" y="337" width="1" height="1"/><rect x="290" y="337" width="2" height="1"/><rect x="252" y="338" width="2" height="1"/><rect x="288" y="338" width="2" height="1"/><rect x="254" y="339" width="1" height="1"/><rect x="284" y="339" width="4" height="1"/><rect x="255" y="340" width="3" height="1"/><rect x="277" y="340" width="7" height="1"/><rect x="258" y="341" width="2" height="1"/><rect x="272" y="341" width="5" height="1"/><rect x="260" y="342" width="2" height="1"/><rect x="267" y="342" width="5" height="1"/><rect x="262" y="343" width="5" height="1"/>
</g>
<rect x="1314" y="0" width="1" height="428" fill="#000"/>
<rect x="0" y="427" width="1315" height="1" fill="#000"/>
<rect x="1315" y="28" width="2" height="1" fill="#000"/><rect x="1315" y="61" width="2" height="1" fill="#000"/><rect x="1315" y="94" width="2" height="1" fill="#000"/><rect x="1315" y="127" width="2" height="1" fill="#000"/><rect x="1315" y="160" width="2" height="1" fill="#000"/><rect x="1315" y="193" width="2" height="1" fill="#000"/><rect x="1315" y="226" width="2" height="1" fill="#000"/><rect x="1315" y="259" width="2" height="1" fill="#000"/><rect x="1315" y="292" width="2" height="1" fill="#000"/><rect x="1315" y="325" width="2" height="1" fill="#000"/><rect x="1315" y="358" width="2" height="1" fill="#000"/><rect x="1315" y="391" width="2" height="1" fill="#000"/><rect x="1315" y="424" width="2" height="1" fill="#000"/>
<rect x="63" y="428" width="1" height="2" fill="#000"/><rect x="127" y="428" width="1" height="2" fill="#000"/><rect x="191" y="428" width="1" height="2" fill="#000"/><rect x="255" y="428" width="1" height="2" fill="#000"/><rect x="319" y="428" width="1" height="2" fill="#000"/><rect x="383" y="428" width="1" height="2" fill="#000"/><rect x="447" y="428" width="1" height="2" fill="#000"/><rect x="511" y="428" width="1" height="2" fill="#000"/><rect x="575" y="428" width="1" height="2" fill="#000"/><rect x="639" y="428" width="1" height="2" fill="#000"/><rect x="703" y="428" width="1" height="2" fill="#000"/><rect x="767" y="428" width="1" height="2" fill="#000"/><rect x="831" y="428" width="1" height="2" fill="#000"/><rect x="895" y="428" width="1" height="2" fill="#000"/><rect x="959" y="428" width="1" height="2" fill="#000"/><rect x="1023" y="428" width="1" height="2" fill="#000"/>
<g fill="#000" stroke="#000" stroke-width="0.3">
<text x="1320" y="32" textLength="23" lengthAdjust="spacingAndGlyphs">50.40</text>
<text x="1320" y="65" textLength="23" lengthAdjust="spacingAndGlyphs">48.30</text>
<text x="1320" y="98" textLength="23" lengthAdjust="spacingAndGlyphs">46.25</text>
<text x="1320" y="131" textLength="23" lengthAdjust="spacingAndGlyphs">44.15</text>
<text x="1320" y="164" textLength="23" lengthAdjust="spacingAndGlyphs">42.05</text>
<text x="1320" y="197" textLength="23" lengthAdjust="spacingAndGlyphs">40.00</text>
<text x="1320" y="230" textLength="23" lengthAdjust="spacingAndGlyphs">37.90</text>
<text x="1320" y="263" textLength="23" lengthAdjust="spacingAndGlyphs">35.85</text>
<text x="1320" y="296" textLength="23" lengthAdjust="spacingAndGlyphs">33.75</text>
<text x="1320" y="329" textLength="23" lengthAdjust="spacingAndGlyphs">31.70</text>
<text x="1320" y="362" textLength="23" lengthAdjust="spacingAndGlyphs">29.60</text>
<text x="1320" y="395" textLength="23" lengthAdjust="spacingAndGlyphs">27.55</text>
<text x="1320" y="428" textLength="23" lengthAdjust="spacingAndGlyphs">25.45</text>
</g>
<rect x="1316" y="68" width="31" height="11" fill="#000"/>
<text x="1320" y="77" fill="#fff" stroke="#fff" stroke-width="0.3" textLength="23" lengthAdjust="spacingAndGlyphs">47.56</text>
<rect x="1354" y="0" width="1" height="430" fill="#e6e6e6"/>
<rect x="1356" y="0" width="4" height="430" fill="#ababab"/>
</svg>
</body></html>
